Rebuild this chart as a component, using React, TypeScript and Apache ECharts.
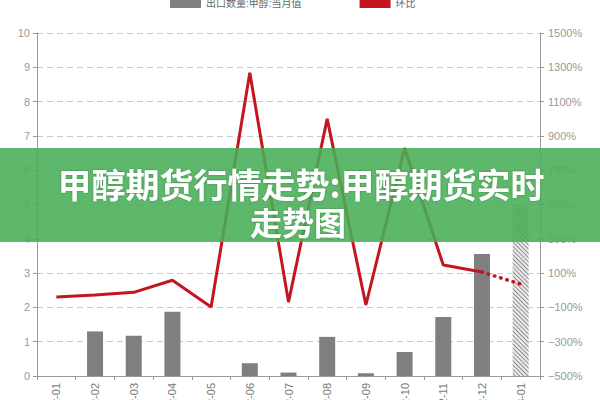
import React, { useEffect, useRef } from "react";
import * as echarts from "echarts";

const categories = [
  "2022-01", "2022-02", "2022-03", "2022-04", "2022-05", "2022-06", "2022-07",
  "2022-08", "2022-09", "2022-10", "2022-11", "2022-12", "2023-01",
];
const exportQty = [0, 1.3, 1.17, 1.87, 0, 0.37, 0.1, 1.14, 0.08, 0.7, 1.72, 3.56, 5.0];
const forecastIndex = 12;
const momActual = [-40, -28, -12, 58, -98, 1268, -69, 999, -86, 829, 147, 106, null];
const momForecast = [null, null, null, null, null, null, null, null, null, null, null, 106, 36];
const leftTicks = { min: 0, max: 10, interval: 1 };
const rightTicks = { min: -500, max: 1500, interval: 200 };
const barName = "出口数量:甲醇:当月值";
const lineName = "环比";
const titleLine1 = "甲醇期货行情走势:甲醇期货实时";
const titleLine2 = "走势图";

const FONT = "'Liberation Sans', Arial, 'Noto Sans CJK SC', sans-serif";
const RED = "#c3161f";

export default function App() {
  const ref = useRef<HTMLDivElement>(null);
  useEffect(() => {
    if (!ref.current) return;
    const chart = echarts.init(ref.current, undefined, { renderer: "svg" });
    const barData = exportQty.map((v, i) =>
      i === forecastIndex
        ? {
            value: v,
            itemStyle: {
              color: "#ebebeb",
              decal: {
                symbol: "rect",
                symbolSize: 1,
                dashArrayX: [[1, 0]],
                dashArrayY: [1, 2],
                rotation: Math.PI / 4,
                color: "#8e8e8e",
              },
            },
          }
        : v
    );
    chart.setOption({
      animation: false,
      textStyle: { fontFamily: FONT },
      legend: {
        left: 165,
        top: -7,
        itemWidth: 31,
        itemHeight: 10,
        itemGap: 58,
        icon: "rect",
        textStyle: { fontSize: 10, color: "#666", fontFamily: FONT },
        data: [barName, lineName],
      },
      grid: { left: 37, right: 60, top: 33, bottom: 24, containLabel: false, outerBoundsMode: "none" },
      xAxis: {
        type: "category",
        data: categories,
        axisLine: { lineStyle: { color: "#999" } },
        axisTick: { show: true, length: 4, lineStyle: { color: "#999" } },
        axisLabel: { rotate: 90, fontSize: 11, color: "#777", margin: 7 },
      },
      yAxis: [
        {
          type: "value",
          min: leftTicks.min,
          max: leftTicks.max,
          interval: leftTicks.interval,
          axisLine: { show: true, lineStyle: { color: "#999" } },
          axisTick: { show: true, length: 4, lineStyle: { color: "#999" } },
          axisLabel: { fontSize: 11, color: "#999", margin: 7 },
          splitLine: { show: true, lineStyle: { color: "#c8c8c8", type: [6, 4] } },
        },
        {
          type: "value",
          min: rightTicks.min,
          max: rightTicks.max,
          interval: rightTicks.interval,
          axisLine: { show: true, lineStyle: { color: "#999" } },
          axisTick: { show: true, length: 4, lineStyle: { color: "#999" } },
          axisLabel: { fontSize: 11, color: "#999", margin: 8, formatter: (v: number) => (v < 0 ? "\u2212" + Math.abs(v) : v) + "%" },
          splitLine: { show: false },
        },
      ],
      series: [
        {
          name: barName,
          type: "bar",
          yAxisIndex: 0,
          barWidth: 16,
          itemStyle: { color: "#7f7f7f" },
          data: barData,
        },
        {
          name: lineName,
          type: "line",
          yAxisIndex: 1,
          symbol: "none",
          itemStyle: { color: RED },
          lineStyle: { color: RED, width: 3 },
          data: momActual,
          z: 3,
        },
        {
          name: lineName + "预测",
          type: "line",
          yAxisIndex: 1,
          symbol: "none",
          lineStyle: { color: RED, width: 3.5, type: [0.5, 6], cap: "round" },
          data: momForecast,
          z: 3,
        },
      ],
      graphic: [
        {
          type: "rect",
          z: 100,
          shape: { x: 0, y: 148, width: 600, height: 94 },
          style: { fill: "rgba(72,174,88,0.88)" },
        },
        {
          type: "text",
          z: 101,
          x: 301,
          y: 183,
          style: {
            text: titleLine1,
            fill: "#ffffff",
            font: "bold 34px 'Noto Sans CJK SC', sans-serif",
            align: "center",
            verticalAlign: "middle",
            textShadowColor: "rgba(0,0,0,0.25)",
            textShadowBlur: 2,
          },
        },
        {
          type: "text",
          z: 101,
          x: 298,
          y: 221,
          style: {
            text: titleLine2,
            fill: "#ffffff",
            font: "bold 32px 'Noto Sans CJK SC', sans-serif",
            align: "center",
            verticalAlign: "middle",
            textShadowColor: "rgba(0,0,0,0.25)",
            textShadowBlur: 2,
          },
        },
      ],
    });
    return () => chart.dispose();
  }, []);
  return (
    <div
      ref={ref}
      style={{ position: "fixed", left: 0, top: 0, width: 600, height: 400, background: "#fff" }}
    />
  );
}
